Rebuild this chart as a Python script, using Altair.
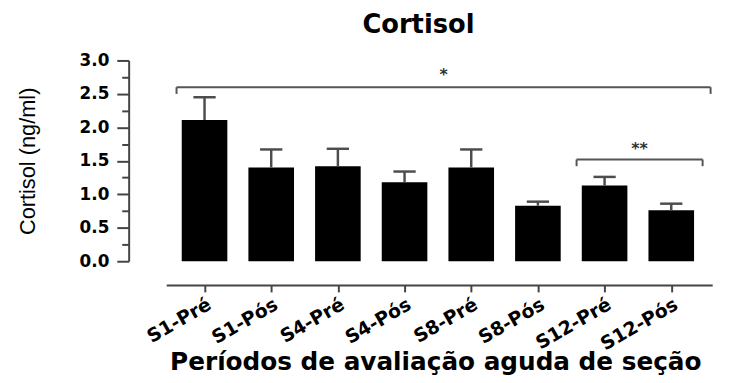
import altair as alt
import pandas as pd

# ---- data ----
categories = ["S1-Pré", "S1-Pós", "S4-Pré", "S4-Pós", "S8-Pré", "S8-Pós", "S12-Pré", "S12-Pós"]
means = [2.11, 1.40, 1.42, 1.18, 1.40, 0.83, 1.13, 0.76]
sems = [0.34, 0.27, 0.26, 0.16, 0.27, 0.06, 0.13, 0.10]

# significance brackets (category-index units / y units)
br_start = [-0.42, 5.58]
br_end = [7.59, 7.47]
br_y = [2.60, 1.52]
br_drop = [2.50, 1.42]
br_label = ["*", "**"]
br_label_y = [2.78, 1.68]

df = pd.DataFrame({"idx": list(range(len(categories))), "cat": categories,
                   "mean": means, "sem": sems})
ann = pd.DataFrame({"x1": br_start, "x2": br_end, "y": br_y, "yd": br_drop,
                    "label": br_label, "ly": br_label_y})

AX = "#444444"
TICKFONT = "DejaVu Sans"
half_bar = 0.342
half_cap = 0.167

label_js = "[" + ",".join("'" + c + "'" for c in categories) + "]"

xscale = alt.Scale(domain=[-0.5, 7.54], nice=False, zero=False)
yscale = alt.Scale(domain=[0, 3], nice=False)

xaxis = alt.Axis(
    title="Períodos de avaliação aguda de seção",
    values=list(range(len(categories))),
    labelExpr=label_js + "[datum.value]",
    labelAngle=-30, labelFont=TICKFONT, labelFontWeight="bold", labelFontSize=19,
    labelColor="black", labelPadding=3, labelOverlap=False,
    tickSize=7, tickColor=AX, tickWidth=2, domainColor=AX, domainWidth=2,
    offset=24, grid=False,
    titleFont=TICKFONT, titleFontWeight="bold", titleFontSize=25, titleColor="black",
    titleBaseline="alphabetic", titleY=85, titleX=272,
)
yaxis = alt.Axis(
    title="Cortisol (ng/ml)",
    values=[0, 0.5, 1.0, 1.5, 2.0, 2.5, 3.0], format=".1f",
    labelFont=TICKFONT, labelFontWeight="bold", labelFontSize=17, labelColor="black",
    labelPadding=8, tickSize=12, tickColor=AX, tickWidth=2,
    domainColor=AX, domainWidth=2, offset=38, grid=False, orient="left",
    titleFont="Liberation Sans", titleFontWeight="normal", titleFontSize=22,
    titleColor="black", titlePadding=40,
)
yminor = alt.Axis(
    title=None, values=[0.25, 0.75, 1.25, 1.75, 2.25, 2.75], labels=False,
    tickSize=7, tickColor=AX, tickWidth=2, domain=False, offset=38, grid=False,
    orient="left",
)

base = alt.Chart(df).transform_calculate(
    x0=f"datum.idx - {half_bar}", x1=f"datum.idx + {half_bar}",
    top="datum.mean + datum.sem",
    cl=f"datum.idx - {half_cap}", cr=f"datum.idx + {half_cap}",
)

bars = base.mark_bar(color="black", orient="vertical").encode(
    x=alt.X("x0:Q", scale=xscale, axis=xaxis),
    x2="x1:Q",
    y=alt.Y("mean:Q", scale=yscale, axis=yaxis),
    y2=alt.datum(0),
)
minor = base.mark_point(opacity=0).encode(
    x=alt.X("idx:Q", scale=xscale, axis=xaxis),
    y=alt.Y("mean:Q", scale=yscale, axis=yminor),
)
stem = base.mark_rule(color="#4d4d4d", strokeWidth=2.5).encode(
    x=alt.X("idx:Q", scale=xscale, axis=xaxis),
    y=alt.Y("mean:Q", scale=yscale, axis=None),
    y2="top:Q",
)
cap = base.mark_rule(color="#4d4d4d", strokeWidth=2.5).encode(
    x=alt.X("cl:Q", scale=xscale, axis=xaxis),
    x2="cr:Q",
    y=alt.Y("top:Q", scale=yscale, axis=None),
)

abase = alt.Chart(ann).transform_calculate(mid="(datum.x1 + datum.x2) / 2")
hline = abase.mark_rule(color="#555555", strokeWidth=2).encode(
    x=alt.X("x1:Q", scale=xscale, axis=xaxis), x2="x2:Q",
    y=alt.Y("y:Q", scale=yscale, axis=None),
)
ldrop = abase.mark_rule(color="#555555", strokeWidth=2).encode(
    x=alt.X("x1:Q", scale=xscale, axis=xaxis),
    y=alt.Y("y:Q", scale=yscale, axis=None), y2="yd:Q",
)
rdrop = abase.mark_rule(color="#555555", strokeWidth=2).encode(
    x=alt.X("x2:Q", scale=xscale, axis=xaxis),
    y=alt.Y("y:Q", scale=yscale, axis=None), y2="yd:Q",
)
stars = abase.mark_text(font=TICKFONT, fontWeight="bold", fontSize=16,
                        color="#333333", baseline="middle", align="center").encode(
    x=alt.X("mid:Q", scale=xscale, axis=xaxis),
    y=alt.Y("ly:Q", scale=yscale, axis=None),
    text="label:N",
)

chart = alt.layer(bars, minor, stem, cap, hline, ldrop, rdrop, stars).resolve_axis(
    y="independent"
).properties(
    width=552, height=203,
    background="white",
    autosize=alt.AutoSizeParams(type="none"),
    padding={"left": 160, "top": 51, "right": 19, "bottom": 113},
    title=alt.TitleParams("Cortisol", font=TICKFONT, fontWeight="bold", fontSize=26,
                          color="black", anchor="middle", frame="group", dx=-21,
                          offset=14),
).configure_view(stroke=None, strokeWidth=0)

chart.save("out.html", embed_options={"renderer": "svg", "actions": False})
